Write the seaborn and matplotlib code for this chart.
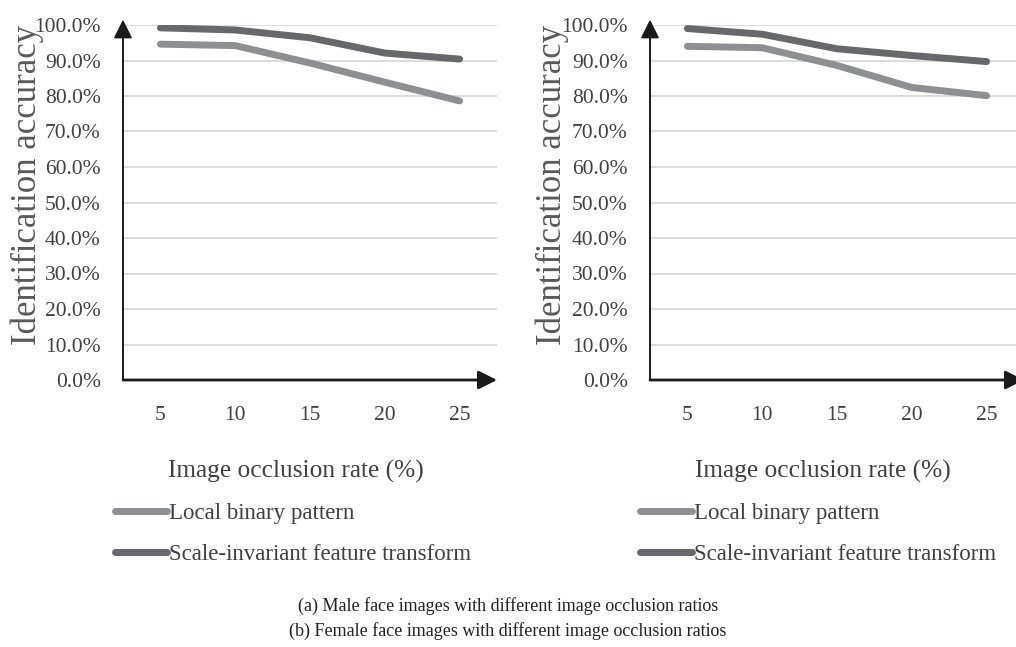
import matplotlib
matplotlib.use("Agg")
import matplotlib.pyplot as plt
from matplotlib.ticker import PercentFormatter
from matplotlib.lines import Line2D
import seaborn as sns
import pandas as pd

# ---- data ----
occlusion_rates = [5, 10, 15, 20, 25]
methods = ["Local binary pattern", "Scale-invariant feature transform"]
lbp_male = [94.6, 94.2, 89.3, 83.9, 78.6]
sift_male = [99.2, 98.6, 96.4, 92.1, 90.4]
lbp_female = [94.0, 93.6, 88.6, 82.4, 80.1]
sift_female = [99.0, 97.4, 93.3, 91.4, 89.7]
y_ticks = [0, 10, 20, 30, 40, 50, 60, 70, 80, 90, 100]
x_label = "Image occlusion rate (%)"
y_label = "Identification accuracy"
captions = ["(a) Male face images with different image occlusion ratios",
            "(b) Female face images with different image occlusion ratios"]

sns.set_theme(style="white")
plt.rcParams["font.family"] = ["Liberation Serif", "DejaVu Serif"]

LIGHT = "#8e8f91"
DARK = "#67686b"
palette = {methods[0]: LIGHT, methods[1]: DARK}
TEXT = "#404040"
LW = 5.0

fig = plt.figure(figsize=(10.16, 6.47), dpi=100)

W = 374 / 1016
H = 355 / 647
bottom = 1 - 380 / 647
ax_left = fig.add_axes([123 / 1016, bottom, W, H])
ax_right = fig.add_axes([650 / 1016, bottom, W, H])


def make_df(lbp, sift):
    rows = []
    for m, vals in zip(methods, [lbp, sift]):
        for x, v in zip(occlusion_rates, vals):
            rows.append({"rate": x, "acc": v, "method": m})
    return pd.DataFrame(rows)


for ax, (lbp, sift), ylab_x in [(ax_left, (lbp_male, sift_male), -0.255),
                               (ax_right, (lbp_female, sift_female), -0.262)]:
    df = make_df(lbp, sift)
    sns.lineplot(data=df, x="rate", y="acc", hue="method", palette=palette,
                 linewidth=LW, solid_capstyle="round", legend=False, ax=ax,
                 zorder=3)
    ax.set_xlim(2.5, 27.5)
    ax.set_ylim(0, 100)
    ax.set_xticks(occlusion_rates)
    ax.set_xticklabels([str(v) for v in occlusion_rates])
    ax.set_yticks(y_ticks)
    ax.yaxis.set_major_formatter(PercentFormatter(xmax=100, decimals=1))
    ax.grid(axis="y", color="#d9d9d9", linewidth=1.3, zorder=0)
    ax.grid(axis="x", visible=False)
    for s in ["top", "right", "bottom", "left"]:
        ax.spines[s].set_visible(False)
    ax.tick_params(axis="both", length=0, labelsize=15.5, labelcolor=TEXT)
    ax.tick_params(axis="x", pad=19)
    ax.tick_params(axis="y", pad=16)
    # axis arrows
    ax.annotate("", xy=(0, 1.015), xytext=(0, 0), xycoords="axes fraction",
                arrowprops=dict(arrowstyle="-|>", color="#1a1a1a", lw=1.4,
                                mutation_scale=28, shrinkA=0, shrinkB=0),
                annotation_clip=False, zorder=5)
    ax.annotate("", xy=(1.0, 0), xytext=(0, 0), xycoords="axes fraction",
                arrowprops=dict(arrowstyle="-|>", color="#1a1a1a", lw=2.0,
                                mutation_scale=28, shrinkA=0, shrinkB=0),
                annotation_clip=False, zorder=5)
    ax.set_xlabel(x_label, fontsize=18.3, color=TEXT)
    ax.xaxis.set_label_coords(0.4626, -0.225)
    ax.set_ylabel(y_label, fontsize=25, color="#595959")
    ax.yaxis.label.set_va("center")
    ax.yaxis.set_label_coords(ylab_x, 0.549)

handles = [Line2D([0], [0], color=palette[m], linewidth=LW,
                  solid_capstyle="round") for m in methods]
for lx in [115, 640]:
    fig.legend(handles, methods, loc="upper left",
               bbox_to_anchor=(lx / 1016, 1 - 503 / 647), frameon=False,
               fontsize=16.5, handlelength=2.25, handletextpad=0.12,
               labelspacing=0.86, borderpad=0, borderaxespad=0,
               labelcolor=TEXT)

fig.text(508 / 1016, 1 - 606 / 647, captions[0], ha="center", va="center",
         fontsize=13, color="#222222")
fig.text(508 / 1016, 1 - 631 / 647, captions[1], ha="center", va="center",
         fontsize=13, color="#222222")

fig.savefig("out.png", dpi=100)
